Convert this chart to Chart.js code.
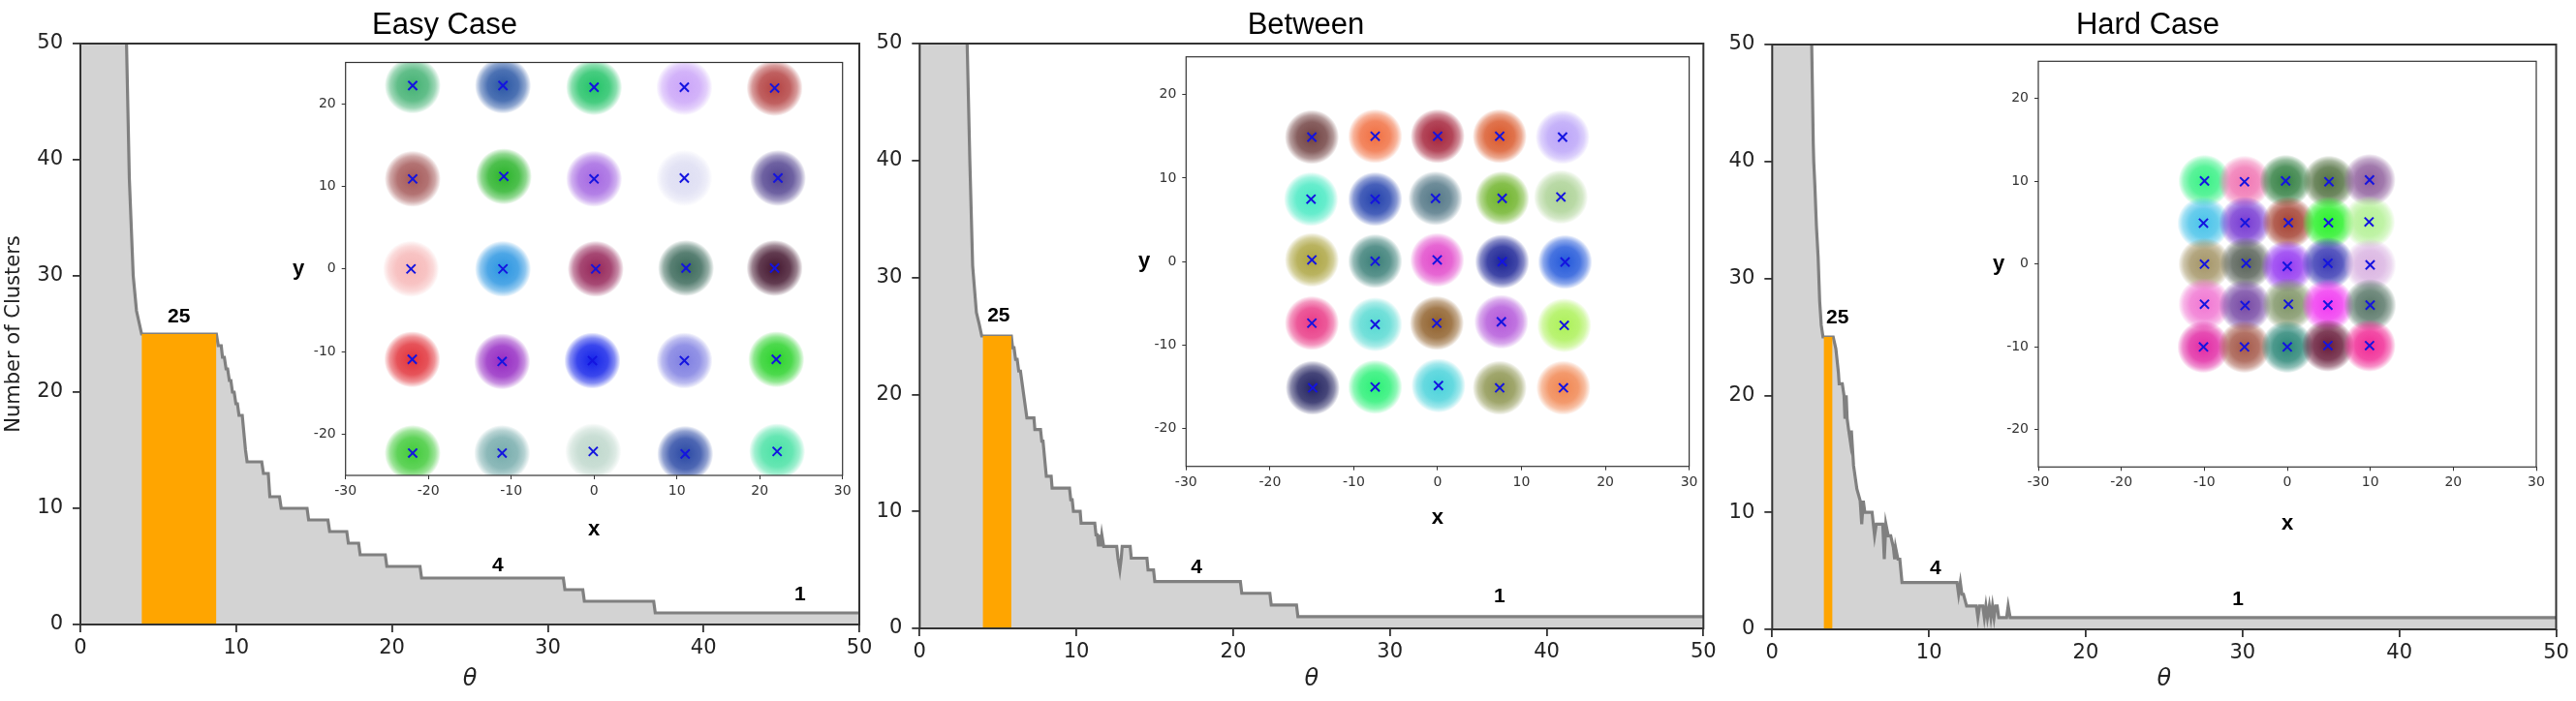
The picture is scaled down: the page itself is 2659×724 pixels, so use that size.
<!DOCTYPE html>
<html>
<head>
<meta charset="utf-8">
<script src="https://cdn.jsdelivr.net/npm/chart.js@4.4.0/dist/chart.umd.min.js"></script>
<style>
html,body{margin:0;padding:0;background:#fff;}
#fig{position:relative;width:2659px;height:724px;overflow:hidden;background:#fff;}
.box{position:absolute;}
.box canvas{display:block;}
</style>
</head>
<body>
<div id="fig">
  <div class="box" style="left:0px;top:0px;width:900px;height:724px"><canvas id="main1"></canvas></div>
  <div class="box" style="left:900px;top:0px;width:879px;height:724px"><canvas id="main2"></canvas></div>
  <div class="box" style="left:1779px;top:0px;width:880px;height:724px"><canvas id="main3"></canvas></div>
  <div class="box" style="left:290px;top:55px;width:590px;height:525px"><canvas id="inset1"></canvas></div>
  <div class="box" style="left:1150px;top:50px;width:605px;height:520px"><canvas id="inset2"></canvas></div>
  <div class="box" style="left:2030px;top:50px;width:600px;height:525px"><canvas id="inset3"></canvas></div>
</div>
<script>
// ---------------- DATA ----------------
const panelTitles = ['Easy Case', 'Between', 'Hard Case'];
const mainTicks = [0, 10, 20, 30, 40, 50];
const insetXTicks = [-30, -20, -10, 0, 10, 20, 30];
const insetYTicks = [-20, -10, 0, 10, 20];
const plateauLevel = 25;
const annoText = ['25', '4', '1'];

// number of clusters vs theta (vertices of the curve)
const easyTheta = [0, 2.9, 2.96, 3.14, 3.39, 3.6, 3.93, 8.73, 8.85, 9.04, 9.12, 9.24, 9.35, 9.45, 9.56, 9.66, 9.76, 9.87, 9.98, 10.08, 10.18, 10.39, 10.6, 10.7, 11.64, 11.75, 12.06, 12.16, 12.78, 12.89, 14.55, 14.65, 15.89, 16.0, 17.1, 17.2, 17.86, 17.96, 19.57, 19.67, 21.8, 21.9, 31.0, 31.1, 32.25, 32.35, 36.8, 36.9, 50];
const easyCount = [200, 200, 50, 38.4, 30, 27, 25, 25, 24, 24, 23, 23, 22, 22, 21, 21, 20, 20, 19, 19, 18, 18, 15, 14, 14, 13, 13, 11, 11, 10, 10, 9, 9, 8, 8, 7, 7, 6, 6, 5, 5, 4, 4, 3, 3, 2, 2, 1, 1];
const easyPlateau = [3.93, 8.73];

const betweenTheta = [0, 2.97, 3.03, 3.2, 3.38, 3.62, 3.8, 3.96, 5.85, 5.93, 6.02, 6.12, 6.22, 6.32, 6.43, 6.84, 7.29, 7.35, 7.71, 7.79, 7.87, 8.08, 8.39, 8.45, 9.56, 9.64, 9.73, 9.81, 10.24, 10.3, 11.17, 11.25, 11.33, 11.41, 11.48, 11.54, 11.62, 11.74, 12.57, 12.65, 12.77, 12.86, 12.92, 13.43, 13.5, 14.5, 14.57, 14.92, 15.0, 20.46, 20.55, 22.34, 22.43, 24.04, 24.13, 50];
const betweenCount = [200, 200, 50, 40, 31, 27, 26, 25, 25, 24, 24, 23, 23, 22, 22, 18, 18, 17, 17, 16, 16, 13, 13, 12, 12, 11, 11, 10, 10, 9, 9, 8, 8, 7, 8, 7, 8, 7, 7, 6, 5, 6, 7, 7, 6, 6, 5, 5, 4, 4, 3, 3, 2, 2, 1, 1];
const betweenPlateau = [4.02, 5.85];

const hardTheta = [0, 2.47, 2.52, 2.62, 2.65, 2.72, 2.82, 2.93, 3.03, 3.13, 3.24, 3.89, 4.06, 4.22, 4.27, 4.47, 4.58, 4.64, 4.72, 4.78, 4.88, 4.99, 5.05, 5.19, 5.4, 5.61, 5.71, 5.81, 5.91, 6.37, 6.53, 6.64, 7.05, 7.15, 7.25, 7.4, 7.56, 7.73, 7.81, 7.87, 8.02, 8.14, 8.28, 11.79, 11.89, 12.0, 12.1, 12.2, 12.4, 13.02, 13.12, 13.23, 13.43, 13.53, 13.63, 13.73, 13.85, 13.95, 14.05, 14.15, 14.25, 14.35, 14.45, 14.95, 15.05, 15.18, 50];
const hardCount = [200, 200, 50, 41.5, 40, 38, 34.5, 31.8, 28, 26, 25, 25, 24, 22, 21, 21, 20, 18, 20, 18, 17, 16, 17, 14, 12, 11, 9, 11, 10, 10, 8, 9, 9, 6, 9, 8, 8, 7, 6, 7, 6, 6, 4, 4, 3, 4, 3, 3, 2, 2, 1, 2, 2, 1, 2, 1, 2, 1, 2, 1, 2, 2, 1, 1, 2, 1, 1];
const hardPlateau = [3.28, 3.85];

// cluster centres of the inset scatter plots (row by row, top row first)
const easyX = [-21.9, -11.0, 0.0, 10.9, 21.8, -21.9, -10.9, 0.0, 10.9, 22.2, -22.1, -11.0, 0.2, 11.1, 21.8, -21.95, -11.1, -0.2, 10.9, 22.0, -21.9, -11.1, -0.1, 11.0, 22.1];
const easyY = [22.2, 22.2, 22.0, 22.0, 21.9, 10.9, 11.2, 10.9, 11.0, 11.0, 0.0, 0.0, 0.0, 0.1, 0.1, -10.95, -11.2, -11.1, -11.1, -10.95, -22.3, -22.3, -22.1, -22.4, -22.1];
const betweenX = [-15.0, -7.45, 0.0, 7.4, 14.9, -15.1, -7.45, -0.25, 7.7, 14.7, -15.0, -7.45, -0.05, 7.7, 15.2, -15.0, -7.45, -0.1, 7.6, 15.1, -14.9, -7.45, 0.1, 7.4, 15.0];
const betweenY = [14.9, 15.0, 15.0, 15.0, 14.9, 7.47, 7.47, 7.57, 7.57, 7.73, 0.2, 0.05, 0.2, 0.0, -0.05, -7.36, -7.52, -7.36, -7.2, -7.63, -15.1, -15.0, -14.83, -15.1, -15.1];
const hardX = [-9.98, -5.16, -0.2, 5.02, 9.91, -10.1, -5.09, 0.13, 4.96, 9.85, -9.98, -4.96, 0.0, 4.89, 9.98, -9.98, -5.09, 0.13, 4.89, 9.98, -10.1, -5.16, 0.0, 4.89, 9.91];
const hardY = [10.05, 9.95, 10.05, 9.95, 10.16, 4.95, 5.0, 5.0, 5.0, 5.1, 0.0, 0.1, -0.27, 0.1, -0.1, -4.84, -5.0, -4.84, -4.95, -4.95, -10.0, -10.0, -10.0, -9.84, -9.84];

// ---------------- STYLE ----------------
const easyColors = ['#3aae6c', '#1f4ea0', '#18c060', '#c8a0f8', '#b03838',
  '#a05050', '#20b020', '#a060e0', '#dcdcf2', '#4a3a8a',
  '#f6b4b4', '#2090e0', '#901a50', '#2f6050', '#3a0a24',
  '#e02830', '#9020c0', '#0818e8', '#7878e0', '#20d020',
  '#38c830', '#70a8a8', '#bcd6ca', '#2040a0', '#40e0a0'];
const betweenColors = ['#6a3838', '#f06838', '#a01830', '#d85020', '#b8a0f8',
  '#40e8c0', '#1838a8', '#4a7080', '#68b020', '#a8d090',
  '#a8a038', '#307870', '#e040c8', '#101890', '#1850d8',
  '#e83080', '#50d8d0', '#8a5820', '#b050d8', '#a8f050',
  '#181858', '#20f070', '#40d0d8', '#889048', '#f08048'];
const hardColors = ['#30f080', '#f070b0', '#2a7a3a', '#4a6a38', '#8a5898',
  '#40c0e8', '#7030d0', '#a03828', '#20f020', '#b0f090',
  '#a09060', '#505a50', '#9030f0', '#3030b0', '#d8b0e0',
  '#f070d0', '#7040a0', '#7a9060', '#f030f0', '#507060',
  '#e020a0', '#a05040', '#208070', '#601030', '#f02090'];

const TICK_FONT = {family: "'DejaVu Sans'", size: 21};
const INSET_TICK_FONT = {family: "'DejaVu Sans'", size: 14};

function rgba(hex, a) {
  const n = parseInt(hex.slice(1), 16);
  return 'rgba(' + ((n >> 16) & 255) + ',' + ((n >> 8) & 255) + ',' + (n & 255) + ',' + a + ')';
}

function framePlugin(color, width) {
  return {
    id: 'frame',
    afterDraw(chart) {
      const ctx = chart.ctx, a = chart.chartArea;
      ctx.save();
      ctx.strokeStyle = color;
      ctx.lineWidth = width;
      ctx.strokeRect(a.left, a.top, a.right - a.left, a.bottom - a.top);
      ctx.restore();
    }
  };
}

function textPlugin(items) {
  return {
    id: 'texts',
    afterDraw(chart) {
      const ctx = chart.ctx, a = chart.chartArea;
      items.forEach(it => {
        let x, y;
        if (it.data) {
          x = chart.scales.x.getPixelForValue(it.data[0]);
          y = chart.scales.y.getPixelForValue(it.data[1]);
        } else {
          x = it.x === 'mid' ? (a.left + a.right) / 2 : it.x;
          y = it.y === 'mid' ? (a.top + a.bottom) / 2 : it.y;
        }
        ctx.save();
        ctx.font = it.font;
        ctx.fillStyle = it.color || '#000';
        ctx.textAlign = it.align || 'center';
        ctx.textBaseline = it.baseline || 'middle';
        ctx.fillText(it.text, x, y);
        ctx.restore();
      });
    }
  };
}

function fixedTicks(values) {
  return s => { s.ticks = values.map(v => ({value: v})); };
}

function mainChart(id, c) {
  const curve = c.theta.map((t, i) => ({x: t, y: c.count[i]}));
  const band = c.plateau.map(t => ({x: t, y: plateauLevel}));
  const items = [
    {text: c.title, x: c.titleX, y: 35, font: "31px 'Liberation Sans'", baseline: 'alphabetic', color: '#000'}
  ];
  annoText.forEach((t, i) => items.push({text: t, data: [c.annoTheta[i], c.annoCount[i]], font: "bold 21px 'Liberation Sans'", color: '#000'}));
  const yAxis = {
    type: 'linear', min: 0, max: 50,
    afterBuildTicks: fixedTicks(mainTicks),
    ticks: {font: TICK_FONT, color: '#222', padding: 10},
    grid: {drawOnChartArea: false, drawTicks: true, tickLength: 8, color: '#333', lineWidth: 1.8},
    border: {display: false},
    afterFit: s => { s.width = c.yw; s.paddingTop = 0; s.paddingBottom = 0; }
  };
  if (c.yTitle) {
    yAxis.title = {display: true, text: c.yTitle, font: {family: "'DejaVu Sans'", size: 21}, color: '#222', padding: {top: 2, bottom: 0}};
  }
  return new Chart(document.getElementById(id), {
    type: 'line',
    data: {
      datasets: [
        {label: 'plateau', data: band, fill: 'origin', backgroundColor: '#ffa500', borderColor: 'rgba(0,0,0,0)', borderWidth: 0, pointRadius: 0, tension: 0},
        {label: 'clusters', data: curve, fill: 'origin', backgroundColor: '#d3d3d3', borderColor: '#808080', borderWidth: 3.2, pointRadius: 0, tension: 0}
      ]
    },
    options: {
      responsive: true, maintainAspectRatio: false, animation: false, events: [],
      layout: {autoPadding: false, padding: {left: 0, top: c.top, right: c.right, bottom: 0}},
      plugins: {legend: {display: false}, tooltip: {enabled: false}, title: {display: false}},
      scales: {
        x: {
          type: 'linear', min: 0, max: 50,
          afterBuildTicks: fixedTicks(mainTicks),
          ticks: {font: TICK_FONT, color: '#222', padding: 4, maxRotation: 0, autoSkip: false},
          grid: {drawOnChartArea: false, drawTicks: true, tickLength: 8, color: '#333', lineWidth: 1.8},
          border: {display: false},
          title: {display: true, text: 'θ', font: {family: "'DejaVu Sans'", size: 24, style: 'italic'}, color: '#222', padding: {top: 0, bottom: 8}},
          afterFit: s => { s.height = c.xh; s.paddingLeft = 0; s.paddingRight = 0; }
        },
        y: yAxis
      }
    },
    plugins: [framePlugin('#333', 2), textPlugin(items)]
  });
}

function blobFill(colors, r) {
  return ctx => {
    const base = colors[ctx.dataIndex % colors.length] || '#888888';
    const chart = ctx.chart, xs = chart.scales.x, ys = chart.scales.y;
    if (ctx.type !== 'data' || !ctx.parsed || !xs || !ys) return rgba(base, 0.5);
    const px = xs.getPixelForValue(ctx.parsed.x), py = ys.getPixelForValue(ctx.parsed.y);
    if (!isFinite(px) || !isFinite(py)) return rgba(base, 0.5);
    const g = chart.ctx.createRadialGradient(px, py, 0, px, py, r);
    g.addColorStop(0, rgba(base, 0.95));
    g.addColorStop(0.55, rgba(base, 0.8));
    g.addColorStop(0.8, rgba(base, 0.5));
    g.addColorStop(0.93, rgba(base, 0.2));
    g.addColorStop(1, rgba(base, 0));
    return g;
  };
}

function insetChart(id, c) {
  const centers = c.cx.map((x, i) => ({x: x, y: c.cy[i]}));
  const items = [
    {text: 'x', x: 'mid', y: c.xLabelY, font: "bold 22px 'Liberation Sans'", color: '#000'},
    {text: 'y', x: c.yLabelX, y: 'mid', font: "bold 22px 'Liberation Sans'", color: '#000'}
  ];
  const axisCommon = {
    type: 'linear',
    grid: {drawOnChartArea: false, drawTicks: true, tickLength: 4, color: '#333', lineWidth: 1},
    border: {display: false}
  };
  return new Chart(document.getElementById(id), {
    type: 'scatter',
    data: {
      datasets: [
        {label: 'centroids', data: centers, pointStyle: 'crossRot', pointRadius: 6.5, borderColor: '#1414e0', borderWidth: 2, backgroundColor: 'rgba(0,0,0,0)'},
        {label: 'points', data: centers, pointStyle: 'circle', pointRadius: c.radius, borderWidth: 0, backgroundColor: blobFill(c.colors, c.radius), clip: 0}
      ]
    },
    options: {
      responsive: true, maintainAspectRatio: false, animation: false, events: [],
      layout: {autoPadding: false, padding: {left: 0, top: c.top, right: c.right, bottom: 0}},
      plugins: {legend: {display: false}, tooltip: {enabled: false}, title: {display: false}},
      scales: {
        x: Object.assign({}, axisCommon, {
          min: -30, max: 30,
          afterBuildTicks: fixedTicks(insetXTicks),
          ticks: {font: INSET_TICK_FONT, color: '#333', padding: 4, maxRotation: 0, autoSkip: false},
          afterFit: s => { s.height = c.xh; s.paddingLeft = 0; s.paddingRight = 0; }
        }),
        y: Object.assign({}, axisCommon, {
          min: -c.yLim, max: c.yLim,
          afterBuildTicks: fixedTicks(insetYTicks),
          ticks: {font: INSET_TICK_FONT, color: '#333', padding: 6, autoSkip: false},
          afterFit: s => { s.width = c.yw; s.paddingTop = 0; s.paddingBottom = 0; }
        })
      }
    },
    plugins: [framePlugin('#333', 1.2), textPlugin(items)]
  });
}

// ---------------- BUILD ----------------
mainChart('main1', {title: panelTitles[0], titleX: 459, theta: easyTheta, count: easyCount, plateau: easyPlateau,
  annoTheta: [6.33, 26.8, 46.2], annoCount: [26.5, 5.06, 2.56],
  top: 45, right: 13, yw: 83, xh: 79, yTitle: 'Number of Clusters'});
mainChart('main2', {title: panelTitles[1], titleX: 448, theta: betweenTheta, count: betweenCount, plateau: betweenPlateau,
  annoTheta: [5.04, 17.67, 36.99], annoCount: [26.7, 5.17, 2.68],
  top: 45, right: 20.7, yw: 49.3, xh: 75});
mainChart('main3', {title: panelTitles[2], titleX: 438, theta: hardTheta, count: hardCount, plateau: hardPlateau,
  annoTheta: [4.17, 10.41, 29.7], annoCount: [26.6, 5.17, 2.57],
  top: 46, right: 20.5, yw: 50.3, xh: 74});

insetChart('inset1', {cx: easyX, cy: easyY, colors: easyColors, radius: 29, yLim: 25,
  top: 9.5, right: 10.3, yw: 66.7, xh: 89, xLabelY: 492, yLabelX: 18});
insetChart('inset2', {cx: betweenX, cy: betweenY, colors: betweenColors, radius: 28, yLim: 24.5,
  top: 8.7, right: 11.4, yw: 74.3, xh: 88.3, xLabelY: 485, yLabelX: 31});
insetChart('inset3', {cx: hardX, cy: hardY, colors: hardColors, radius: 27, yLim: 24.5,
  top: 13.3, right: 12, yw: 74, xh: 92.7, xLabelY: 491, yLabelX: 33});
</script>
</body>
</html>
